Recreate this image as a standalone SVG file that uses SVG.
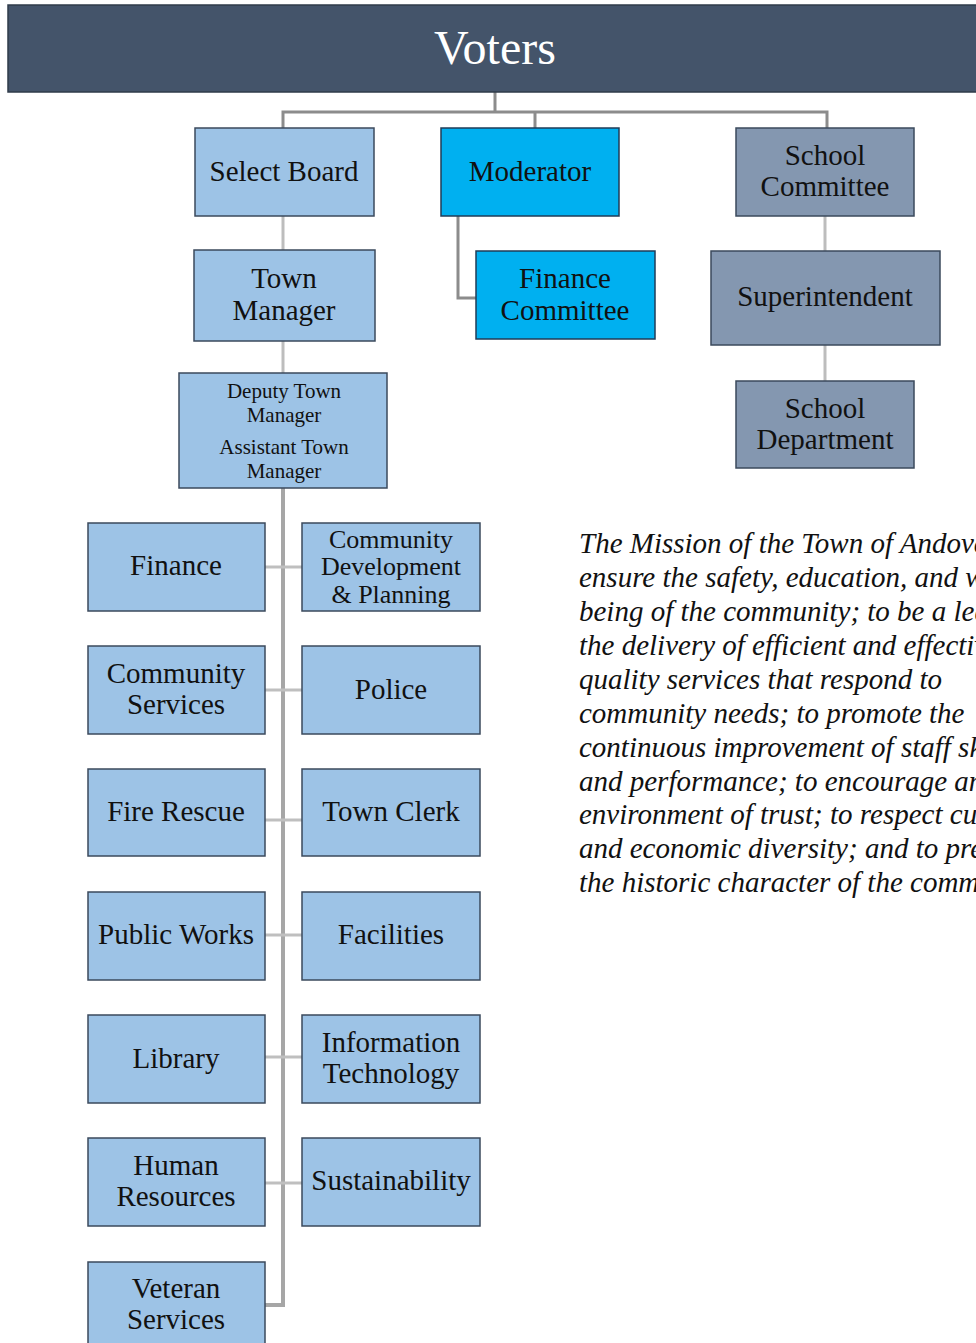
<svg xmlns="http://www.w3.org/2000/svg" width="976" height="1343" viewBox="0 0 976 1343">
<style>
.lb{fill:#9dc3e6;stroke:#3b4a5c;stroke-width:1.5}
.md{fill:#00b0f0;stroke:#1f3c58;stroke-width:1.5}
.sc{fill:#8497b0;stroke:#3b4a5c;stroke-width:1.5}
.t{font-family:"Liberation Serif","Times New Roman",serif;font-size:29px;fill:#111;text-anchor:middle}
.s{font-size:21px}
.cd{font-size:26px}
.m{font-family:"Liberation Serif","Times New Roman",serif;font-size:29px;font-style:italic;fill:#111}
.c1{fill:none;stroke:#8c8c8c;stroke-width:3}
.c2{fill:none;stroke:#bdbdbd;stroke-width:3}
.c3{fill:none;stroke:#a6a6a6;stroke-width:4}
.c4{fill:none;stroke:#bfbfbf;stroke-width:3}
</style>
<rect width="976" height="1343" fill="#ffffff"/>
<g id="connectors">
<path class="c1" d="M495 92V112M283 130V112H827V130M535 112V130"/>
<path class="c1" d="M458 216V298H477"/>
<path class="c2" d="M283 216V250M283 341V373M825 216V251M825 345V381"/>
<path class="c3" d="M283 488V1305H265"/>
<path class="c4" d="M265 567H302M265 690H302M265 820H302M265 935H302M265 1057H302M265 1183H302"/>
</g>
<g id="voters"><rect x="8" y="5" width="975" height="87" fill="#44546a" stroke="#2f3b4a" stroke-width="1.5"/><text x="495" y="64" class="t" style="font-size:48px;fill:#fff">Voters</text></g>
<g id="select-board"><rect class="lb" x="195" y="128" width="179" height="88"/><text class="t" x="284" y="181">Select Board</text></g>
<g id="moderator"><rect class="md" x="441" y="128" width="178" height="88"/><text class="t" x="530" y="181">Moderator</text></g>
<g id="school-committee"><rect class="sc" x="736" y="128" width="178" height="88"/><text class="t" x="825" y="165">School</text><text class="t" x="825" y="196">Committee</text></g>
<g id="town-manager"><rect class="lb" x="194" y="250" width="181" height="91"/><text class="t" x="284" y="288">Town</text><text class="t" x="284" y="320">Manager</text></g>
<g id="finance-committee"><rect class="md" x="476" y="251" width="179" height="88"/><text class="t" x="565" y="288">Finance</text><text class="t" x="565" y="320">Committee</text></g>
<g id="superintendent"><rect class="sc" x="711" y="251" width="229" height="94"/><text class="t" x="825" y="306">Superintendent</text></g>
<g id="school-department"><rect class="sc" x="736" y="381" width="178" height="87"/><text class="t" x="825" y="418">School</text><text class="t" x="825" y="449">Department</text></g>
<g id="deputy"><rect class="lb" x="179" y="373" width="208" height="115"/><text class="t s" x="284" y="398">Deputy Town</text><text class="t s" x="284" y="422">Manager</text><text class="t s" x="284" y="454">Assistant Town</text><text class="t s" x="284" y="478">Manager</text></g>
<g id="finance"><rect class="lb" x="88" y="523" width="177" height="88"/><text class="t" x="176" y="575">Finance</text></g>
<g id="cdp"><rect class="lb" x="302" y="523" width="178" height="88"/><text class="t cd" x="391" y="548">Community</text><text class="t cd" x="391" y="575">Development</text><text class="t cd" x="391" y="603">&amp; Planning</text></g>
<g id="community-services"><rect class="lb" x="88" y="646" width="177" height="88"/><text class="t" x="176" y="683">Community</text><text class="t" x="176" y="714">Services</text></g>
<g id="police"><rect class="lb" x="302" y="646" width="178" height="88"/><text class="t" x="391" y="699">Police</text></g>
<g id="fire-rescue"><rect class="lb" x="88" y="769" width="177" height="87"/><text class="t" x="176" y="821">Fire Rescue</text></g>
<g id="town-clerk"><rect class="lb" x="302" y="769" width="178" height="87"/><text class="t" x="391" y="821">Town Clerk</text></g>
<g id="public-works"><rect class="lb" x="88" y="892" width="177" height="88"/><text class="t" x="176" y="944">Public Works</text></g>
<g id="facilities"><rect class="lb" x="302" y="892" width="178" height="88"/><text class="t" x="391" y="944">Facilities</text></g>
<g id="library"><rect class="lb" x="88" y="1015" width="177" height="88"/><text class="t" x="176" y="1068">Library</text></g>
<g id="it"><rect class="lb" x="302" y="1015" width="178" height="88"/><text class="t" x="391" y="1052">Information</text><text class="t" x="391" y="1083">Technology</text></g>
<g id="human-resources"><rect class="lb" x="88" y="1138" width="177" height="88"/><text class="t" x="176" y="1175">Human</text><text class="t" x="176" y="1206">Resources</text></g>
<g id="sustainability"><rect class="lb" x="302" y="1138" width="178" height="88"/><text class="t" x="391" y="1190">Sustainability</text></g>
<g id="veteran-services"><rect class="lb" x="88" y="1262" width="177" height="90"/><text class="t" x="176" y="1298">Veteran</text><text class="t" x="176" y="1329">Services</text></g>
<g id="mission">
<text class="m" x="579" y="553">The Mission of the Town of Andover is to</text>
<text class="m" x="579" y="587">ensure the safety, education, and well-</text>
<text class="m" x="579" y="621">being of the community; to be a leader in</text>
<text class="m" x="579" y="655">the delivery of efficient and effective</text>
<text class="m" x="579" y="689">quality services that respond to</text>
<text class="m" x="579" y="723">community needs; to promote the</text>
<text class="m" x="579" y="757">continuous improvement of staff skills</text>
<text class="m" x="579" y="791">and performance; to encourage an</text>
<text class="m" x="579" y="824">environment of trust; to respect cultural</text>
<text class="m" x="579" y="858">and economic diversity; and to preserve</text>
<text class="m" x="579" y="892">the historic character of the community.</text>
</g>
</svg>
